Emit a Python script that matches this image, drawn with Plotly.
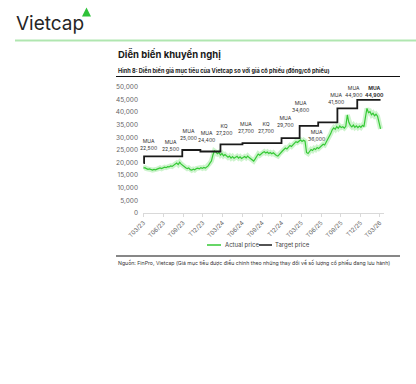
import plotly.graph_objects as go
import pandas as pd

# ---------------- data ----------------
actual_start = "2023-03-01"
actual_price_k = [
    17.8, 18.0, 17.6, 17.3, 17.5, 17.2, 17.0, 17.3, 17.1,
    17.4, 17.6, 17.9, 17.6, 18.0, 18.2, 18.0, 18.4,
    18.3, 18.7, 18.5, 19.0, 19.3, 19.8, 19.2, 20.1, 19.4, 18.8,
    18.6, 18.0, 17.6, 17.9, 17.2, 17.0, 17.4, 17.1,
    17.6, 17.8, 17.5, 18.0, 17.7, 18.1, 17.8, 18.3, 18.8,
    19.8, 20.6, 23.0, 24.6,
    24.2, 23.5, 24.0, 23.0, 23.6, 22.7, 23.2, 22.5,
    22.1, 22.6, 21.8, 22.4, 21.7, 22.1, 22.5, 21.8, 22.3, 21.6, 22.0,
    22.4, 21.9, 22.6, 22.0, 21.4, 21.0, 20.6,
    21.5, 22.8, 23.4, 22.9, 23.6, 24.0, 24.3,
    23.8, 24.2, 23.6, 24.0, 23.5, 23.9, 23.2, 22.8, 22.6, 23.4,
    24.2, 24.6, 25.2, 25.8, 25.4, 26.2, 26.8, 26.4, 27.2,
    27.6, 28.3, 28.0, 28.6, 29.0, 28.4, 28.9, 28.5,
    24.0, 23.6,
    24.5, 25.2, 24.8, 25.6, 25.2, 26.0, 25.6, 26.3, 26.8, 27.3, 27.0,
    28.0, 29.0, 30.2, 31.5, 33.0,
    33.8, 33.2, 34.3, 33.6, 34.5, 33.9, 34.2, 33.7, 34.4,
    38.9, 36.0,
    34.8, 34.2, 34.9, 34.0, 34.6, 33.9, 34.5, 34.0, 34.8, 34.3,
    38.0, 41.5, 39.8,
    40.2, 39.0, 39.6, 38.6, 39.2, 38.4,
    35.5, 33.4,
]
actual_price = [v * 1000 for v in actual_price_k]
actual_dates = pd.date_range(actual_start, periods=len(actual_price), freq="7D")

target_dates = ["2023-03-01", "2023-03-04", "2023-08-28", "2023-11-20", "2024-02-21",
                "2024-06-02", "2024-11-30", "2025-02-22", "2025-05-19", "2025-08-16",
                "2025-11-16", "2026-03-04"]
target_price = [19800, 22500, 25000, 24400, 27200, 27700, 29700, 34600, 36000,
                41500, 44900, 44900]

rec_dates = ["2023-03-24", "2023-07-04", "2023-09-26", "2023-12-20", "2024-03-10",
             "2024-06-20", "2024-09-21", "2024-12-18", "2025-02-27", "2025-05-13",
             "2025-08-10", "2025-10-28", "2026-02-03"]
rec_types = ["MUA", "MUA", "MUA", "MUA", "KQ", "MUA", "KQ", "MUA", "MUA", "MUA",
             "MUA", "MUA", "MUA"]
rec_prices = [22500, 22500, 25000, 24400, 27200, 27700, 27700, 29700, 34600, 36000,
              41500, 44900, 44900]

y_ticks = list(range(0, 50001, 5000))

# ---------------- styling ----------------
FONT = "Inter"
GREEN = "#35c935"
label_shift = [12, 11, 16, 15.5, 15, 15.7, 15.7, 16.5, 19, -13, 9.6, 8, 8]

W, H = 416, 384
L, R, T, B = 143, 32, 87, 171
pw, ph = W - L - R, H - T - B


def px(x):
    return (x - L) / pw


def py(y):
    return (H - B - y) / ph


fig = go.Figure()
fig.add_trace(go.Scatter(x=actual_dates, y=actual_price, mode="lines",
                         line=dict(color="rgba(90,220,90,0.3)", width=5),
                         hoverinfo="skip", showlegend=False))
fig.add_trace(go.Scatter(x=actual_dates, y=actual_price, mode="lines",
                         name="Actual price",
                         line=dict(color=GREEN, width=1.2), showlegend=False))
fig.add_trace(go.Scatter(x=target_dates, y=target_price, mode="lines",
                         name="Target price",
                         line=dict(color="#1a1a1a", width=1.8, shape="hv"),
                         showlegend=False))

annotations = []
for i, (d, t, p) in enumerate(zip(rec_dates, rec_types, rec_prices)):
    txt = f"{t}<br>{p:,}"
    if i == len(rec_dates) - 1:
        txt = f"<b>{t}<br>{p:,}</b>"
    annotations.append(dict(x=d, y=p, xref="x", yref="y", text=txt, showarrow=False,
                            yshift=label_shift[i], xanchor="center", yanchor="middle",
                            font=dict(family=FONT, size=5.1, color="#333333"),
                            align="center"))

# header texts
annotations += [
    dict(x=px(14), y=py(23.5), xref="paper", yref="paper", text="Vietcap", showarrow=False,
         xanchor="left", yanchor="middle", font=dict(family=FONT, size=19, color="#262626")),
    dict(x=px(116), y=py(54.5), xref="paper", yref="paper", text="<b>Diễn biến khuyến nghị</b>",
         showarrow=False, xanchor="left", yanchor="middle",
         font=dict(family=FONT, size=9.5, color="#1a1a1a")),
    dict(x=px(116), y=py(70.5), xref="paper", yref="paper",
         text="<b>Hình 8: Diễn biến giá mục tiêu của Vietcap so với giá cổ phiếu (đồng/cổ phiếu)</b>",
         showarrow=False, xanchor="left", yanchor="middle",
         font=dict(family=FONT, size=5.6, color="#1a1a1a")),
    dict(x=px(116), y=py(263), xref="paper", yref="paper",
         text="Nguồn: FinPro, Vietcap (Giá mục tiêu được điều chỉnh theo những thay đổi về số lượng cổ phiếu đang lưu hành)",
         showarrow=False, xanchor="left", yanchor="middle",
         font=dict(family=FONT, size=5.2, color="#333333")),
    # legend
    dict(x=px(223), y=py(245), xref="paper", yref="paper", text="Actual price",
         showarrow=False, xanchor="left", yanchor="middle",
         font=dict(family=FONT, size=6, color="#444444")),
    dict(x=px(273), y=py(245), xref="paper", yref="paper", text="Target price",
         showarrow=False, xanchor="left", yanchor="middle",
         font=dict(family=FONT, size=6, color="#444444")),
]

shapes = [
    # header green rule
    dict(type="line", xref="paper", yref="paper", x0=px(15), x1=px(416), y0=py(40.5), y1=py(40.5),
         line=dict(color="rgba(80,200,80,0.45)", width=2)),
    # logo triangle
    dict(type="path", xref="paper", yref="paper",
         path=f"M {px(82)} {py(16.5)} L {px(91)} {py(16.5)} L {px(86.5)} {py(7.5)} Z",
         fillcolor="#2fc23a", line=dict(width=0)),
    # rule under figure caption
    dict(type="line", xref="paper", yref="paper", x0=px(116), x1=px(400), y0=py(76.5), y1=py(76.5),
         line=dict(color="#111111", width=1.2)),
    # rule above source
    dict(type="line", xref="paper", yref="paper", x0=px(116), x1=px(400), y0=py(256), y1=py(256),
         line=dict(color="#111111", width=1.2)),
    # legend samples
    dict(type="line", xref="paper", yref="paper", x0=px(207), x1=px(221), y0=py(245), y1=py(245),
         line=dict(color=GREEN, width=1.5)),
    dict(type="line", xref="paper", yref="paper", x0=px(259), x1=px(272), y0=py(245), y1=py(245),
         line=dict(color="#1a1a1a", width=1.5)),
]

fig.update_layout(
    width=W, height=H, autosize=False,
    margin=dict(l=L, r=R, t=T, b=B, pad=0),
    paper_bgcolor="white", plot_bgcolor="white",
    font=dict(family=FONT, size=6, color="#555555"),
    showlegend=False,
    annotations=annotations, shapes=shapes,
    xaxis=dict(type="date", range=["2023-02-27", "2026-03-20"],
               tick0="2023-03-01", dtick="M3", tickformat="T%m/%y",
               tickangle=-45, tickfont=dict(size=6, color="#666666"),
               showgrid=False, zeroline=False,
               showline=True, linecolor="#d9d9d9", linewidth=1,
               ticks="outside", ticklen=3, tickcolor="#d9d9d9"),
    yaxis=dict(range=[0, 50000], tickvals=y_ticks, tickformat=",d",
               tickfont=dict(size=6.5, color="#666666"),
               showgrid=False, zeroline=False, showline=False, ticks="",
               ticklabelstandoff=4),
)

fig.write_html("out.html", config={"displayModeBar": False},
               post_script="document.body.style.margin='0px';")
